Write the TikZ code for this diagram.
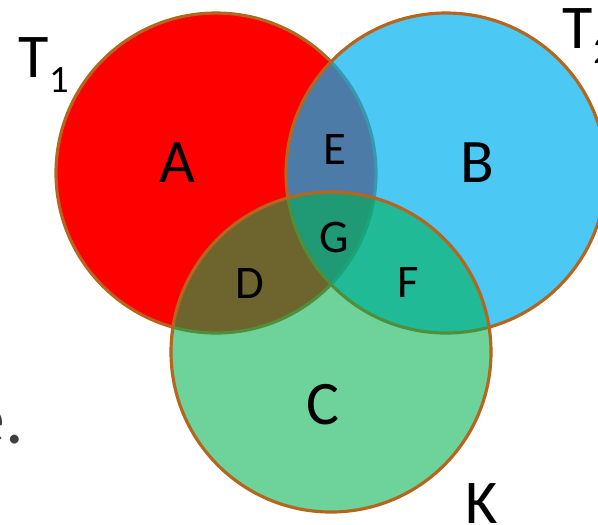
\documentclass[tikz,border=0pt]{standalone}
\usepackage{fontspec}
\setmainfont{Carlito}
\usepackage{tikz}
\definecolor{venn red}{rgb}{1, 0, 0}
\definecolor{venn blue}{rgb}{0, 0.6902, 0.9412}
\definecolor{venn green}{rgb}{0, 0.6902, 0.3137}
\definecolor{venn edge}{rgb}{0.7098, 0.3961, 0.1137}
\definecolor{venn gray}{rgb}{0.25, 0.25, 0.25}

\begin{document}
\begin{tikzpicture}
			\useasboundingbox (0, 0) rectangle (5.98, -5.24);
			% Circle for T_1
			\draw[venn edge, line width = 0.9pt, fill = venn red]
				(2.16, -1.73) circle (1.6);
			% Circle for T_2
			\draw[venn edge, line width = 0.9pt, fill = venn blue, fill opacity = 0.7]
				(4.46, -1.73) circle (1.6);
			% Circle for K
			\draw[venn edge, line width = 0.9pt, fill = venn green, fill opacity = 0.57]
				(3.31, -3.52) circle (1.6);
			% regions
			\begin{scope}[every node/.style = {inner sep = 0, text = black}]
				\node[font = \fontsize{17.6}{20}\selectfont] (a) at (1.77, -1.63) {A};
				\node[font = \fontsize{17.6}{20}\selectfont] (b) at (4.77, -1.63) {B};
				\node[font = \fontsize{17.6}{20}\selectfont] (c) at (3.23, -4.05) {C};
				\node[font = \fontsize{13.3}{16}\selectfont] (e) at (3.35, -1.49) {E};
				\node[font = \fontsize{13.3}{16}\selectfont] (g) at (3.34, -2.37) {G};
				\node[font = \fontsize{13.3}{16}\selectfont] (d) at (2.50, -2.83) {D};
				\node[font = \fontsize{13.3}{16}\selectfont] (f) at (4.08, -2.82) {F};
			\end{scope}
			% set names
			\begin{scope}[every node/.style = {inner sep = 0, text = black, font = \fontsize{17.7}{20}\selectfont}]
				\node[anchor = base west] (t1) at (0.18, -0.77)
					{T\raisebox{-4.3pt}{\fontsize{11}{13}\selectfont 1}};
				\node[anchor = base west] (t2) at (5.62, -0.48)
					{T\raisebox{-4.3pt}{\fontsize{11}{13}\selectfont 2}};
				\node[anchor = base west] (k) at (4.65, -5.23) {K};
			\end{scope}
			\node[anchor = base east, inner sep = 0, text = venn gray,
				font = \fontsize{21}{24}\selectfont] (rest) at (0.25, -4.43) {e.};
		\end{tikzpicture}
\end{document}
